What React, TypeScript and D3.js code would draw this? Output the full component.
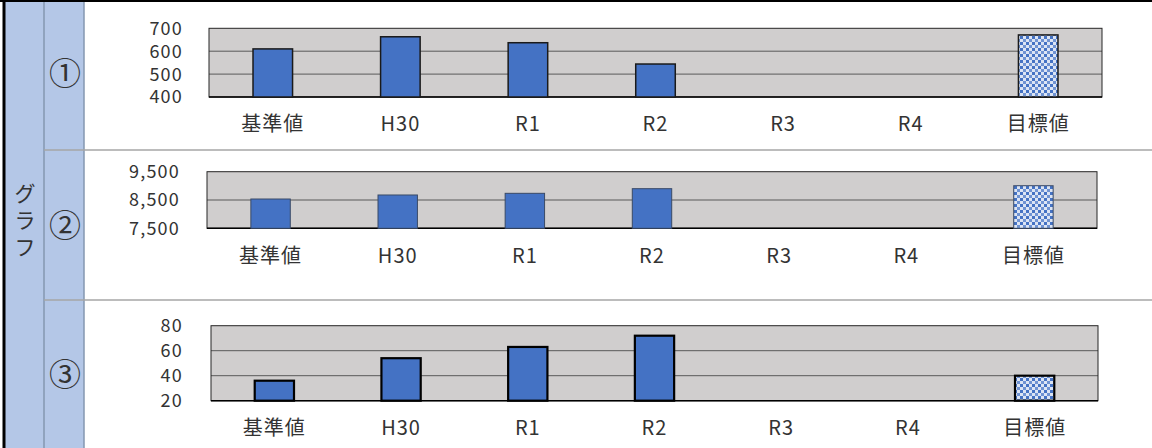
import React from 'react';
import * as d3 from 'd3';

const categories = ['基準値', 'H30', 'R1', 'R2', 'R3', 'R4', '目標値'];
const values1 = [610, 663, 637, 544, null, null, 671];
const values2 = [8535, 8677, 8736, 8900, null, null, 9005];
const values3 = [36, 54, 63, 72, null, null, 40];
const ticks1 = [400, 500, 600, 700];
const ticks2 = [7500, 8500, 9500];
const ticks3 = [20, 40, 60, 80];
const rowLabels = ['①', '②', '③'];

const FONT = '"Noto Sans CJK JP", "Noto Sans", sans-serif';
const BLUE = '#4472c4';
const INK = '#333333';

function Chart({ id, values, ticks, box, tickX, labelY, stroke, strokeW, fmt }: any) {
  const x = d3.scaleBand().domain(categories).range([box.x0, box.x1]).paddingInner(0.69).paddingOuter(0.345);
  const y = d3.scaleLinear().domain([ticks[0], ticks[ticks.length - 1]]).range([box.y1, box.y0]);
  return (
    <g>
      <rect x={box.x0} y={box.y0} width={box.x1 - box.x0} height={box.y1 - box.y0} fill="#d0cece" />
      {ticks.slice(1, -1).map((t: number) => (
        <line key={t} x1={box.x0} x2={box.x1} y1={y(t)} y2={y(t)} stroke="#595959" strokeWidth={1} />
      ))}
      <rect x={box.x0} y={box.y0} width={box.x1 - box.x0} height={box.y1 - box.y0} fill="none" stroke="#262626" strokeWidth={1} />
      <line x1={box.x0} x2={box.x1} y1={box.y1} y2={box.y1} stroke="#000" strokeWidth={1.5} />
      {values.map((v: number | null, i: number) =>
        v == null ? null : (
          <rect
            key={i}
            x={x(categories[i]) as number}
            width={x.bandwidth()}
            y={y(v)}
            height={box.y1 - y(v)}
            fill={categories[i] === '目標値' ? `url(#${id})` : BLUE}
            stroke={stroke}
            strokeWidth={strokeW}
          />
        )
      )}
      {ticks.map((t: number) => (
        <text key={t} x={tickX} y={y(t)} dy="0.36em" textAnchor="end" fontSize={18} letterSpacing={1.2} fontFamily={FONT} fill={INK}>
          {fmt(t)}
        </text>
      ))}
      {categories.map((c) => (
        <text
          key={c}
          x={(x(c) as number) + x.bandwidth() / 2}
          y={labelY}
          dy="0.36em"
          textAnchor="middle"
          fontSize={20}
          letterSpacing={1}
          fontFamily={FONT}
          fill={INK}
        >
          {c}
        </text>
      ))}
    </g>
  );
}

export default function App() {
  const fmt = d3.format(',');
  const rows = [0, 150, 300, 448];
  return (
    <svg width={1152} height={448} style={{ position: 'fixed', left: 0, top: 0, background: '#fff' }}>
      <defs>
        {['p1', 'p2', 'p3'].map((p) => (
          <pattern key={p} id={p} width={6} height={6} patternUnits="userSpaceOnUse">
            <rect width={6} height={6} fill="#dbe4f4" />
            <rect width={3} height={3} fill={BLUE} />
            <rect x={3} y={3} width={3} height={3} fill="#6f93d3" />
          </pattern>
        ))}
      </defs>
      <rect x={4} y={0} width={80} height={448} fill="#b4c7e7" />
      <line x1={44} x2={44} y1={0} y2={448} stroke="#8497b0" strokeWidth={1.5} />
      <line x1={84} x2={84} y1={0} y2={448} stroke="#8497b0" strokeWidth={1.5} />
      {rows.slice(1, 3).map((r) => (
        <line key={r} x1={44} x2={1152} y1={r} y2={r} stroke="#a6a6a6" strokeWidth={1.5} />
      ))}
      <line x1={0} x2={1152} y1={1} y2={1} stroke="#000" strokeWidth={2} />
      <line x1={4} x2={4} y1={0} y2={448} stroke="#000" strokeWidth={3} />
      {['グ', 'ラ', 'フ'].map((c, i) => (
        <text key={c} x={25} y={193 + i * 27} dy="0.36em" textAnchor="middle" fontSize={21} fontFamily={FONT} fill={INK}>
          {c}
        </text>
      ))}
      {rowLabels.map((c, i) => (
        <text key={c} x={65} y={[73, 225, 374][i]} dy="0.36em" textAnchor="middle" fontSize={32} fontFamily={FONT} fill={INK}>
          {c}
        </text>
      ))}
      <Chart id="p1" values={values1} ticks={ticks1} box={{ x0: 209, x1: 1102, y0: 28.3, y1: 97 }} tickX={183} labelY={124} stroke="#1a1a1a" strokeW={1.5} fmt={fmt} />
      <Chart id="p2" values={values2} ticks={ticks2} box={{ x0: 207, x1: 1097, y0: 171.7, y1: 228.3 }} tickX={180} labelY={256} stroke="#3a4a66" strokeW={1} fmt={fmt} />
      <Chart id="p3" values={values3} ticks={ticks3} box={{ x0: 211, x1: 1098, y0: 325.7, y1: 400.7 }} tickX={183} labelY={428} stroke="#000" strokeW={2.2} fmt={fmt} />
    </svg>
  );
}
